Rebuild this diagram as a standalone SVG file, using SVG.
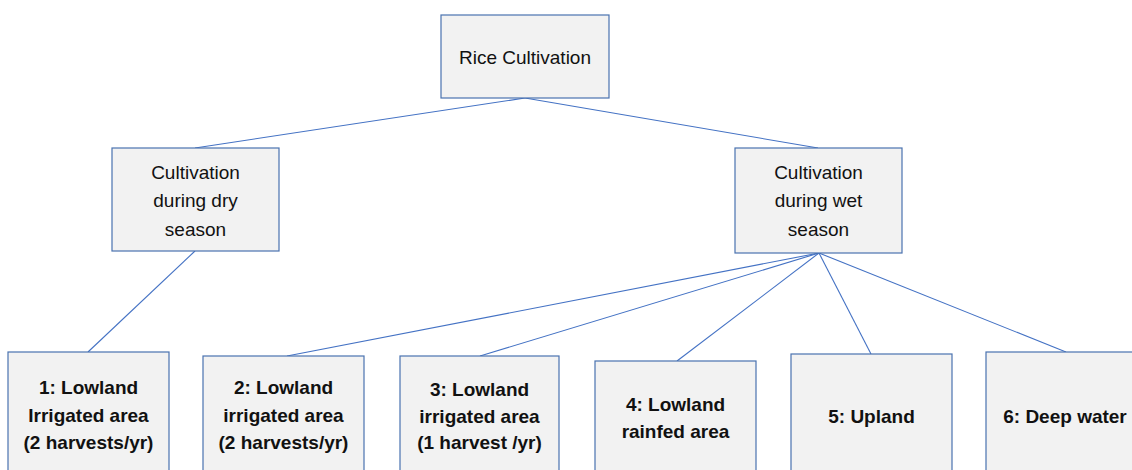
<svg xmlns="http://www.w3.org/2000/svg" width="1132" height="470" viewBox="0 0 1132 470">
<style>
.box{fill:#f2f2f2;stroke:#4a72b0;stroke-width:1.2}
.t{font-family:"Liberation Sans",Arial,sans-serif;font-size:19px;fill:#111;text-anchor:middle}
.b{font-weight:bold}
.c line{stroke:#4472c4;stroke-width:1.1}
</style>
<rect width="1132" height="470" fill="#fff"/>
<g class="c" id="connectors">
<line x1="525" y1="98" x2="195" y2="148"/>
<line x1="525" y1="98" x2="818" y2="148"/>
<line x1="195" y1="251" x2="88" y2="352"/>
<line x1="819" y1="253" x2="287" y2="356"/>
<line x1="819" y1="253" x2="480" y2="356"/>
<line x1="819" y1="253" x2="677" y2="361"/>
<line x1="819" y1="253" x2="871" y2="354"/>
<line x1="819" y1="253" x2="1066" y2="352"/>
</g>
<g id="root"><rect class="box" x="441" y="15" width="168" height="83"/><text class="t" x="525" y="64">Rice Cultivation</text></g>
<g id="dry"><rect class="box" x="112" y="148" width="167" height="103"/><text class="t" x="195.5" y="179">Cultivation</text><text class="t" x="195.5" y="207">during dry</text><text class="t" x="195.5" y="236">season</text></g>
<g id="wet"><rect class="box" x="735" y="148" width="167" height="105"/><text class="t" x="818.5" y="179">Cultivation</text><text class="t" x="818.5" y="207">during wet</text><text class="t" x="818.5" y="236">season</text></g>
<g id="n1"><rect class="box" x="8" y="352" width="161" height="130"/><text class="t b" x="88.5" y="394">1: Lowland</text><text class="t b" x="88.5" y="422">Irrigated area</text><text class="t b" x="88.5" y="449">(2 harvests/yr)</text></g>
<g id="n2"><rect class="box" x="203" y="356" width="161" height="130"/><text class="t b" x="283.5" y="394">2: Lowland</text><text class="t b" x="283.5" y="422">irrigated area</text><text class="t b" x="283.5" y="449">(2 harvests/yr)</text></g>
<g id="n3"><rect class="box" x="400" y="356" width="159" height="130"/><text class="t b" x="479.5" y="396">3: Lowland</text><text class="t b" x="479.5" y="423">irrigated area</text><text class="t b" x="479.5" y="449">(1 harvest /yr)</text></g>
<g id="n4"><rect class="box" x="595" y="361" width="161" height="130"/><text class="t b" x="675.5" y="411">4: Lowland</text><text class="t b" x="675.5" y="438">rainfed area</text></g>
<g id="n5"><rect class="box" x="791" y="354" width="161" height="130"/><text class="t b" x="871.5" y="423">5: Upland</text></g>
<g id="n6"><rect class="box" x="986" y="352" width="161" height="130"/><text class="t b" x="1065" y="423">6: Deep water</text></g>
</svg>
